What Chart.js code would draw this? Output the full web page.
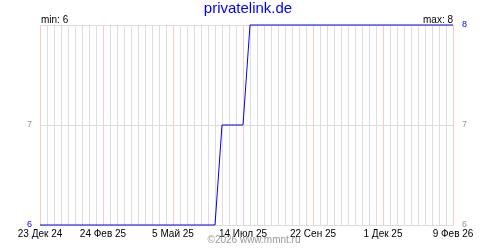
<!DOCTYPE html>
<html>
<head>
<meta charset="utf-8">
<script src="https://cdn.jsdelivr.net/npm/chart.js@4"></script>
<style>
  body { margin: 0; background: #fff; }
  canvas { display: block; }
</style>
</head>
<body>
<canvas id="myChart" width="500" height="250"></canvas>
<script>
// weekly samples starting 23 Dec 2024
const weekValues = [
  6, 6, 6, 6, 6, 6, 6, 6, 6, 6,
  6, 6, 6, 6, 6, 6, 6, 6, 6, 6,
  6, 6, 6, 6, 6, 6, 7, 7, 7, 7,
  8, 8, 8, 8, 8, 8, 8, 8, 8, 8,
  8, 8, 8, 8, 8, 8, 8, 8, 8, 8,
  8, 8, 8, 8, 8, 8, 8, 8, 8, 8,
];
const tickDays = [0, 63, 133, 203, 273, 343, 413];
const tickLabels = ["23 Дек 24", "24 Фев 25", "5 Май 25", "14 Июл 25", "22 Сен 25", "1 Дек 25", "9 Фев 26"];
const yTicks = [6, 7, 8];
const titleText = "privatelink.de";
const minText = "min: 6";
const maxText = "max: 8";
const copyText = "©2026 www.mmnt.ru";

const FONT = "'Liberation Sans', Arial, sans-serif";

const points = weekValues.map((v, i) => ({ x: i * 7, y: v }));

function gridTicks() {
  const ticks = [];
  for (let d = 0; d <= tickDays[tickDays.length - 1]; d += 7) ticks.push({ value: d });
  return ticks;
}

const textPlugin = {
  id: "texts",
  afterDraw(chart) {
    const ctx = chart.ctx;
    const area = chart.chartArea;
    ctx.save();
    ctx.textBaseline = "alphabetic";

    ctx.font = "15px " + FONT;
    ctx.fillStyle = "#0000ff";
    ctx.textAlign = "center";
    ctx.fillText(titleText, 248, 13);

    ctx.font = "10px " + FONT;
    ctx.fillStyle = "#000";
    ctx.textAlign = "left";
    ctx.fillText(minText, area.left + 1, 23);
    ctx.textAlign = "right";
    ctx.fillText(maxText, area.right, 23);

    ctx.fillStyle = "#999";
    ctx.textAlign = "center";
    ctx.fillText(copyText, 254, 243);
    ctx.restore();
  },
};

const config = {
  type: "line",
  data: {
    datasets: [{
      data: points,
      borderColor: "#0000ff",
      borderWidth: 1,
      pointRadius: 0,
      tension: 0,
      fill: false,
      clip: false,
    }],
  },
  options: {
    responsive: false,
    animation: false,
    devicePixelRatio: 1,
    layout: { padding: { top: 25, left: 0, right: 0, bottom: 0 } },
    plugins: { legend: false, tooltip: { enabled: false }, title: { display: false } },
    scales: {
      x: {
        type: "linear",
        min: tickDays[0],
        max: tickDays[tickDays.length - 1],
        afterBuildTicks(scale) { scale.ticks = gridTicks(); },
        afterFit(scale) { scale.height = 25; },
        border: { display: false },
        grid: {
          drawTicks: false,
          lineWidth: 1,
          color: (c) => tickDays.includes(c.tick.value) ? "#ffc8c8" : "#dddddd",
        },
        ticks: {
          autoSkip: false,
          maxRotation: 0,
          padding: 3,
          color: "#000",
          font: { family: FONT, size: 10 },
          callback: (v) => {
            const i = tickDays.indexOf(v);
            return i >= 0 ? tickLabels[i] : "";
          },
        },
      },
      y: {
        position: "left",
        min: 6,
        max: 8,
        afterBuildTicks(scale) { scale.ticks = yTicks.map(v => ({ value: v })); },
        afterFit(scale) { scale.width = 40; },
        border: { display: false },
        grid: { drawTicks: false, color: "#dddddd", lineWidth: 1 },
        ticks: {
          padding: 8,
          font: { family: FONT, size: 9 },
          color: (c) => c.tick.value === 6 ? "#0000ff" : "#999",
          callback: (v) => v === 8 ? "" : String(v),
        },
      },
      y2: {
        position: "right",
        min: 6,
        max: 8,
        afterBuildTicks(scale) { scale.ticks = yTicks.map(v => ({ value: v })); },
        afterFit(scale) { scale.width = 47; },
        border: { display: false },
        grid: { display: false, drawTicks: false },
        ticks: {
          padding: 9,
          font: { family: FONT, size: 9 },
          color: (c) => c.tick.value === 8 ? "#0000ff" : "#999",
          callback: (v) => String(v),
        },
      },
    },
  },
  plugins: [textPlugin],
};

const ctx = document.getElementById("myChart");
const myChart = new Chart(ctx, config);
</script>
</body>
</html>
